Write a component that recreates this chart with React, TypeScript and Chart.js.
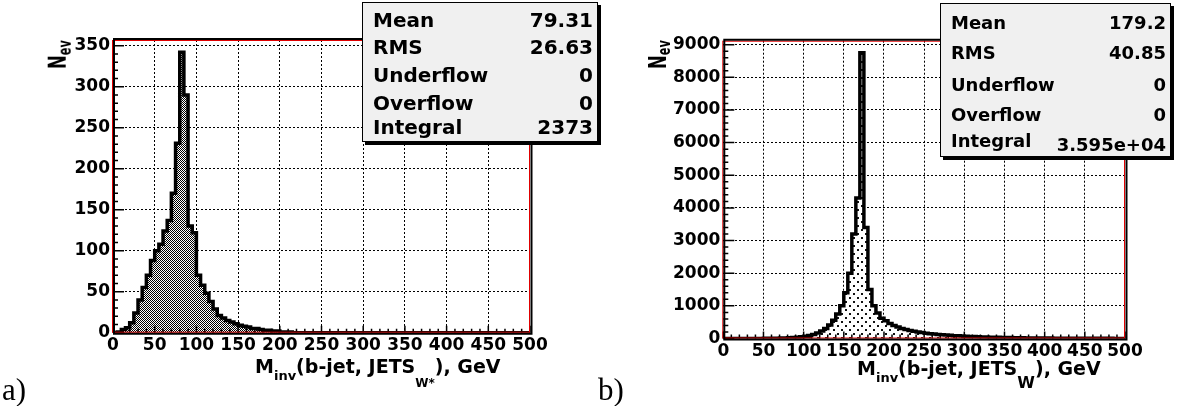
import { useEffect, useRef } from 'react';
import { Chart, registerables } from 'chart.js';

Chart.register(...registerables);

// Histogram binning shared by both panels (GeV)
const binLow = 0;
const binWidth = 5;

const xTicks = [0, 50, 100, 150, 200, 250, 300, 350, 400, 450, 500];
const yTicksWStar = [0, 50, 100, 150, 200, 250, 300, 350];
const yTicksW = [0, 1000, 2000, 3000, 4000, 5000, 6000, 7000, 8000, 9000];

// a) M_inv(b-jet, JETS_W*) — counts per 5 GeV bin, 0..500
const countsWStar = [
  0, 1, 4, 6, 12, 24, 40, 55, 70, 88,
  100, 108, 124, 137, 170, 231, 342, 290, 130, 122,
  70, 58, 48, 38, 29, 21, 18, 15, 13, 11,
  9, 8, 7, 5, 5, 4, 3, 3, 2, 2,
  1, 1, 1, 0, 0, 0, 0, 0, 0, 0,
  0, 0, 0, 0, 0, 0, 0, 0, 0, 0,
  0, 0, 0, 0, 0, 0, 0, 0, 0, 0,
  0, 0, 0, 0, 0, 0, 0, 0, 0, 0,
  0, 0, 0, 0, 0, 0, 0, 0, 0, 0,
  0, 0, 0, 0, 0, 0, 0, 0, 0, 0,
];

// b) M_inv(b-jet, JETS_W) — counts per 5 GeV bin, 0..500
const countsW = [
  0, 0, 0, 0, 0, 1, 1, 2, 2, 3,
  4, 6, 8, 10, 14, 18, 25, 32, 42, 55,
  70, 95, 125, 170, 230, 310, 410, 560, 750, 1000,
  1400, 2000, 3200, 4300, 8750, 3400, 1500, 1000, 780, 620,
  540, 460, 400, 350, 310, 275, 245, 220, 200, 180,
  162, 148, 135, 124, 114, 105, 96, 88, 81, 75,
  69, 63, 58, 53, 49, 45, 41, 38, 35, 32,
  29, 27, 25, 23, 21, 19, 17, 16, 15, 14,
  13, 12, 11, 10, 9, 9, 8, 7, 7, 6,
  6, 5, 5, 5, 4, 4, 4, 3, 3, 3,
];

const statLabels = ['Mean', 'RMS', 'Underflow', 'Overflow', 'Integral'];
const statsWStar = ['79.31', '26.63', '0', '0', '2373'];
const statsW = ['179.2', '40.85', '0', '0', '3.595e+04'];

type Area = { left: number; top: number; right: number; bottom: number };

// Frame with inward tick marks, drawn over the histogram
const frameTicks = {
  id: 'frameTicks',
  afterDraw(chart: any, _args: any, opts: any) {
    const { ctx, chartArea: a, scales } = chart;
    const x = scales.x;
    const y = scales.y;
    ctx.save();
    ctx.strokeStyle = '#000';
    ctx.lineWidth = 1.5;
    ctx.beginPath();
    for (let v = x.min; v <= x.max + 1e-6; v += opts.xMinor) {
      const px = x.getPixelForValue(v);
      const major = Math.abs(v % opts.xMajor) < 1e-6;
      const len = major ? 7 : 4;
      ctx.moveTo(px, a.bottom);
      ctx.lineTo(px, a.bottom - len);
    }
    for (let v = y.min; v <= y.max + 1e-6; v += opts.yMinor) {
      const py = y.getPixelForValue(v);
      const major = Math.abs(v % opts.yMajor) < 1e-6;
      const len = major ? 11 : 5;
      ctx.moveTo(a.left, py);
      ctx.lineTo(a.left + len, py);
    }
    ctx.stroke();

    ctx.strokeStyle = '#e00000';
    ctx.lineWidth = 1;
    ctx.strokeRect(a.left - 0.5, a.top + 0.5, a.right - a.left, a.bottom - a.top - 1);

    ctx.strokeStyle = '#000';
    ctx.lineWidth = 2;
    ctx.beginPath();
    ctx.moveTo(a.left + 1, a.top - 2);
    ctx.lineTo(a.left + 1, a.bottom + 2);
    ctx.moveTo(a.left, a.bottom + 1);
    ctx.lineTo(a.right + 2.5, a.bottom + 1);
    ctx.moveTo(a.left, a.top - 1);
    ctx.lineTo(a.right + 2.5, a.top - 1);
    ctx.moveTo(a.right + 1.5, a.top - 2);
    ctx.lineTo(a.right + 1.5, a.bottom + 2);
    ctx.stroke();
    ctx.restore();
  },
};

function checkerPattern(): CanvasPattern | string {
  const c = document.createElement('canvas');
  c.width = 2;
  c.height = 2;
  const g = c.getContext('2d');
  if (!g) return '#888';
  g.fillStyle = '#fff';
  g.fillRect(0, 0, 2, 2);
  g.fillStyle = '#000';
  g.fillRect(0, 0, 1, 1);
  g.fillRect(1, 1, 1, 1);
  return g.createPattern(c, 'repeat') || '#888';
}

function dotPattern(): CanvasPattern | string {
  const c = document.createElement('canvas');
  c.width = 8;
  c.height = 8;
  const g = c.getContext('2d');
  if (!g) return '#ddd';
  g.fillStyle = '#fff';
  g.fillRect(0, 0, 8, 8);
  g.fillStyle = '#111';
  g.fillRect(1, 1, 2, 2);
  g.fillRect(5, 5, 2, 2);
  return g.createPattern(c, 'repeat') || '#ddd';
}

function buildChart(
  canvas: HTMLCanvasElement,
  canvasLeft: number,
  counts: number[],
  yTicks: number[],
  yMax: number,
  yMinor: number,
  area: Area,
  fill: CanvasPattern | string,
) {
  const W = canvas.width;
  const H = canvas.height;
  const xAxisHeight = 30;
  const yAxisWidth = area.left - canvasLeft;
  const points = counts.map((c, i) => ({ x: binLow + i * binWidth, y: c }));
  points.push({ x: binLow + counts.length * binWidth, y: counts[counts.length - 1] });
  const tickFont = { family: 'DejaVu Sans', weight: 'bold' as const, size: 17 };
  const hidden = 'rgba(0,0,0,0)';
  const xLast = xTicks[xTicks.length - 1];

  return new Chart(canvas, {
    type: 'line',
    data: {
      datasets: [
        {
          data: points,
          stepped: 'before',
          borderColor: '#000',
          borderWidth: 3.5,
          backgroundColor: fill as any,
          fill: 'origin',
          pointRadius: 0,
          borderJoinStyle: 'miter',
        },
      ],
    },
    options: {
      animation: false,
      responsive: false,
      events: [],
      layout: {
        padding: {
          left: 0,
          top: area.top,
          right: canvasLeft + W - area.right,
          bottom: H - area.bottom - xAxisHeight,
        },
      },
      plugins: {
        legend: { display: false },
        tooltip: { enabled: false },
        frameTicks: { xMinor: 10, xMajor: 50, yMinor, yMajor: yTicks[1] - yTicks[0] },
      } as any,
      scales: {
        x: {
          type: 'linear',
          min: xTicks[0],
          max: xLast,
          afterBuildTicks: (s: any) => {
            s.ticks = xTicks.map((v) => ({ value: v }));
          },
          afterFit: (s: any) => {
            s.height = xAxisHeight;
          },
          grid: {
            drawTicks: false,
            lineWidth: 1,
            color: (c: any) =>
              c.tick && (c.tick.value === xTicks[0] || c.tick.value === xLast) ? hidden : '#000',
          },
          border: { display: false, dash: [2, 2] },
          ticks: {
            font: tickFont,
            color: '#000',
            padding: 3,
            maxRotation: 0,
            autoSkip: false,
            callback: (v: any) => String(v),
          },
        },
        y: {
          type: 'linear',
          min: 0,
          max: yMax,
          afterBuildTicks: (s: any) => {
            s.ticks = yTicks.map((v) => ({ value: v }));
          },
          afterFit: (s: any) => {
            s.width = yAxisWidth;
          },
          grid: {
            drawTicks: false,
            lineWidth: 1,
            color: (c: any) => (c.tick && c.tick.value === 0 ? hidden : '#000'),
          },
          border: { display: false, dash: [2, 2] },
          ticks: {
            font: tickFont,
            color: '#000',
            padding: 3,
            autoSkip: false,
            callback: (v: any) => String(v),
          },
        },
      },
    } as any,
    plugins: [frameTicks],
  });
}

const boldFont = '"DejaVu Sans", sans-serif';

function StatsBox(props: {
  left: number;
  top: number;
  width: number;
  height: number;
  size: number;
  baselines: number[];
  values: string[];
  valueDrop?: number[];
}) {
  const { left, top, width, height, size, baselines, values, valueDrop } = props;
  const asc = 0.846 * size;
  return (
    <div
      style={{
        position: 'absolute',
        left,
        top,
        width,
        height,
        background: '#f0f0f0',
        border: '1px solid #000',
        boxShadow: '3px 3px 0 #000',
        boxSizing: 'border-box',
        fontFamily: boldFont,
        fontWeight: 'bold',
        fontSize: size,
        lineHeight: `${size}px`,
        color: '#000',
        zIndex: 2,
      }}
    >
      {statLabels.map((label, i) => (
        <div key={label}>
          <span style={{ position: 'absolute', left: 10, top: baselines[i] - asc, whiteSpace: 'nowrap' }}>
            {label}
          </span>
          <span
            style={{
              position: 'absolute',
              right: 4,
              top: baselines[i] - asc + (valueDrop ? valueDrop[i] : 0),
              whiteSpace: 'nowrap',
            }}
          >
            {values[i]}
          </span>
        </div>
      ))}
    </div>
  );
}

function AxisTitle(props: { left: number; top: number; sub: string; subSize: number; subDrop: number }) {
  const { left, top, sub, subSize, subDrop } = props;
  return (
    <div
      style={{
        position: 'absolute',
        left,
        top,
        fontFamily: boldFont,
        fontWeight: 'bold',
        fontSize: 19,
        lineHeight: '19px',
        whiteSpace: 'nowrap',
        color: '#000',
        zIndex: 2,
      }}
    >
      M<span style={{ fontSize: 13, position: 'relative', top: 7 }}>inv</span>(b-jet, JETS
      <span style={{ fontSize: subSize, position: 'relative', top: subDrop }}>{sub}</span>), GeV
    </div>
  );
}

function YTitle(props: { left: number; top: number }) {
  return (
    <div
      style={{
        position: 'absolute',
        left: props.left,
        top: props.top,
        fontFamily: boldFont,
        fontWeight: 'bold',
        fontSize: 22,
        lineHeight: '22px',
        whiteSpace: 'nowrap',
        transformOrigin: 'left top',
        transform: 'rotate(-90deg) scale(0.75, 1.15)',
        color: '#000',
        zIndex: 2,
      }}
    >
      N<span style={{ fontSize: 15, position: 'relative', top: 4 }}>ev</span>
    </div>
  );
}

function PanelTag(props: { left: number; text: string }) {
  return (
    <div
      style={{
        position: 'absolute',
        left: props.left,
        top: 374,
        fontFamily: '"Liberation Serif", serif',
        fontSize: 31,
        lineHeight: '31px',
        color: '#000',
      }}
    >
      {props.text}
    </div>
  );
}

export default function App() {
  const leftRef = useRef<HTMLCanvasElement>(null);
  const rightRef = useRef<HTMLCanvasElement>(null);

  useEffect(() => {
    if (!leftRef.current || !rightRef.current) return;
    const a = buildChart(
      leftRef.current,
      0,
      countsWStar,
      yTicksWStar,
      357,
      10,
      { left: 113, top: 40, right: 530, bottom: 332.7 },
      checkerPattern(),
    );
    const b = buildChart(
      rightRef.current,
      600,
      countsW,
      yTicksW,
      9122,
      200,
      { left: 723.3, top: 40.7, right: 1125, bottom: 338.5 },
      dotPattern(),
    );
    return () => {
      a.destroy();
      b.destroy();
    };
  }, []);

  return (
    <div
      style={{
        position: 'fixed',
        left: 0,
        top: 0,
        width: 1177,
        height: 406,
        background: '#fff',
        overflow: 'hidden',
      }}
    >
      <canvas ref={leftRef} width={600} height={406} style={{ position: 'absolute', left: 0, top: 0 }} />
      <canvas ref={rightRef} width={577} height={406} style={{ position: 'absolute', left: 600, top: 0 }} />

      <YTitle left={45} top={69} />
      <YTitle left={645} top={69} />

      <AxisTitle left={255} top={357} sub="W*" subSize={12} subDrop={14} />
      <AxisTitle left={857} top={359} sub="W" subSize={16} subDrop={13} />

      <StatsBox
        left={362}
        top={2}
        width={236}
        height={140}
        size={20}
        baselines={[24, 51, 79, 107, 131]}
        values={statsWStar}
      />
      <StatsBox
        left={940}
        top={3}
        width={231}
        height={154}
        size={18}
        baselines={[25, 55, 87, 117, 143]}
        values={statsW}
        valueDrop={[0, 0, 0, 0, 4]}
      />

      <PanelTag left={2} text="a)" />
      <PanelTag left={598} text="b)" />
    </div>
  );
}
